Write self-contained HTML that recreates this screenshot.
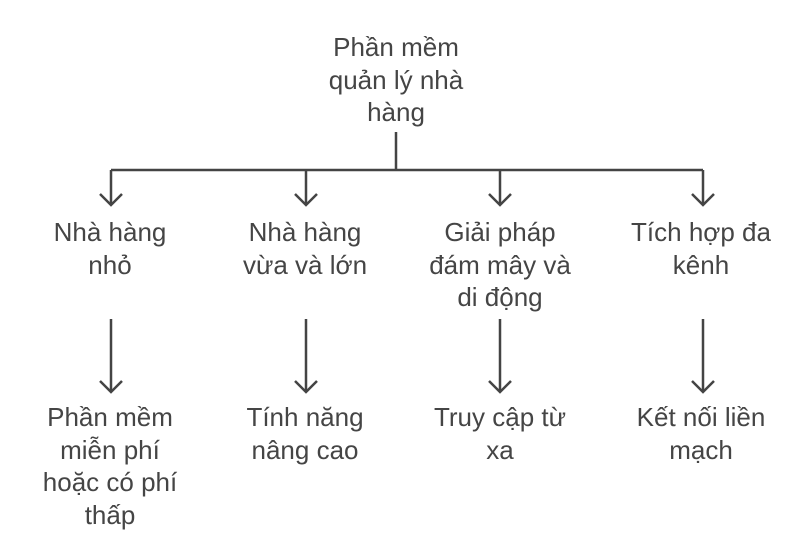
<!DOCTYPE html>
<html><head><meta charset="utf-8"><style>
body{margin:0;width:800px;height:548px;background:#fff;position:relative;overflow:hidden}
.t{position:absolute;text-align:center;font-family:"Liberation Sans",sans-serif;font-size:26px;line-height:32.5px;color:#454545}
svg{position:absolute;left:0;top:0}
</style></head><body>
<svg width="800" height="548" fill="none" stroke="#444" stroke-width="2.5">
<path d="M396 132V170M111 170H703M111 170V204M306 170V204M500 170V204M703 170V204"/>
<path d="M100 194L111 205L122 194M295 194L306 205L317 194M489 194L500 205L511 194M692 194L703 205L714 194"/>
<path d="M111 319V392M306 319V392M500 319V392M703 319V392"/>
<path d="M100 381L111 392L122 381M295 381L306 392L317 381M489 381L500 392L511 381M692 381L703 392L714 381"/>
</svg>
<div class="t" style="left:396px;top:31px;width:160px;margin-left:-80px">Phần mềm quản lý nhà hàng</div>
<div class="t" style="left:110px;top:216px;width:160px;margin-left:-80px">Nhà hàng nhỏ</div>
<div class="t" style="left:305px;top:216px;width:160px;margin-left:-80px">Nhà hàng vừa và lớn</div>
<div class="t" style="left:500px;top:216px;width:160px;margin-left:-80px">Giải pháp đám mây và di động</div>
<div class="t" style="left:701px;top:216px;width:170px;margin-left:-85px">Tích hợp đa kênh</div>
<div class="t" style="left:110px;top:401px;width:150px;margin-left:-75px">Phần mềm miễn phí hoặc có phí thấp</div>
<div class="t" style="left:305px;top:401px;width:160px;margin-left:-80px">Tính năng nâng cao</div>
<div class="t" style="left:500px;top:401px;width:160px;margin-left:-80px">Truy cập từ xa</div>
<div class="t" style="left:701px;top:401px;width:160px;margin-left:-80px">Kết nối liền mạch</div>
</body></html>
